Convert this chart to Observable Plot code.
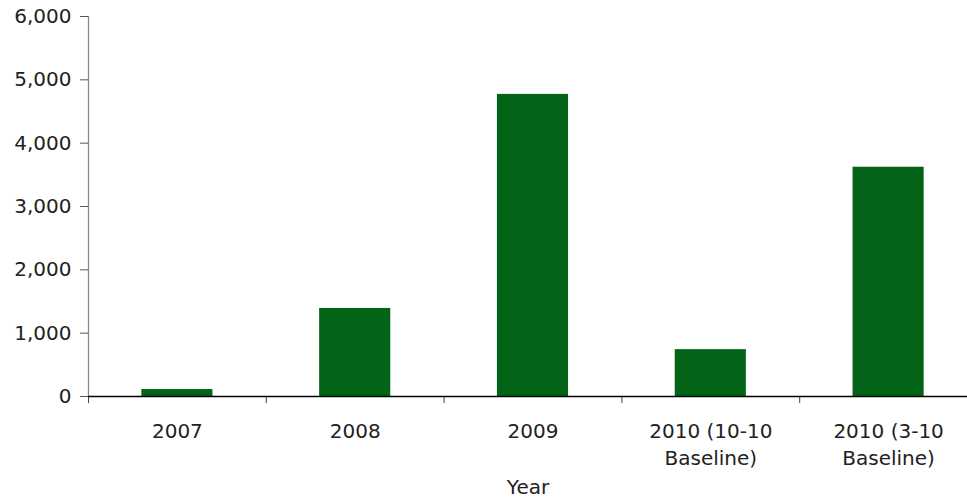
<!DOCTYPE html>
<html>
<head>
<meta charset="utf-8">
<script src="https://cdn.jsdelivr.net/npm/d3@7"></script>
<script src="https://cdn.jsdelivr.net/npm/@observablehq/plot@0.6"></script>
<style>
  html, body { margin: 0; padding: 0; background: #fff; overflow: hidden; }
</style>
</head>
<body>
<div id="chart"></div>
<script>
const categories = ["2007", "2008", "2009", "2010 (10-10\nBaseline)", "2010 (3-10\nBaseline)"];
const values = [110, 1390, 4770, 740, 3620];
const yTicks = [0, 1000, 2000, 3000, 4000, 5000, 6000];
const xTitle = "Year";

const data = categories.map((c, i) => ({category: c, index: i, value: values[i]}));
const boundaries = d3.range(categories.length + 1);

const textColor = "#222";
const fs = 20;
const plot = Plot.plot({
  width: 967,
  height: 499,
  marginTop: 16,
  marginBottom: 103,
  marginLeft: 88,
  marginRight: 0,
  style: {fontFamily: "'DejaVu Sans', Verdana, sans-serif", fontSize: fs + "px", color: textColor, background: "#fff"},
  x: {domain: [0, categories.length], range: [88, 977], axis: null},
  y: {domain: [0, 6000], axis: null},
  marks: [
    Plot.rectY(data, {x1: d => d.index + 0.3, x2: d => d.index + 0.7, y: "value", fill: "#036418"}),
    Plot.ruleX([0], {y1: 0, y2: 6000, stroke: "#888", strokeWidth: 1.3}),
    Plot.axisY({ticks: yTicks, tickFormat: d3.format(","), tickSize: 8, tickPadding: 9, stroke: "#555", fill: textColor, fontSize: fs, label: null}),
    Plot.axisX({ticks: boundaries, tickSize: 7, tickFormat: () => "", stroke: "#444", label: null}),
    Plot.ruleY([0], {stroke: "#000", strokeWidth: 1.3}),
    Plot.text(data, {x: d => d.index + 0.5, y: 0, text: "category", lineAnchor: "top", dy: 23, lineHeight: 1.32, fill: textColor, fontSize: fs}),
    Plot.text([xTitle], {frameAnchor: "bottom", lineAnchor: "top", dy: 83, fill: textColor, fontSize: fs})
  ]
});
document.getElementById("chart").appendChild(plot);
</script>
</body>
</html>
